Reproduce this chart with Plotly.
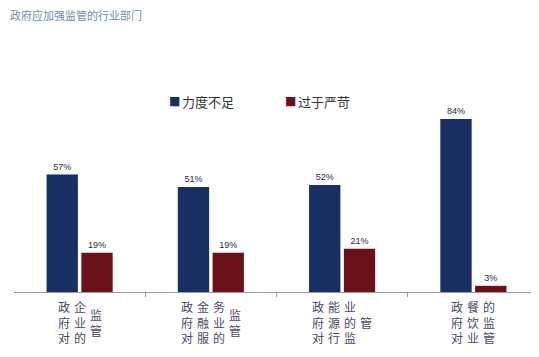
import plotly.graph_objects as go

title = "政府应加强监管的行业部门"
categories = ["政府对企业的监管", "政府对金融服务业的监管", "政府对能源行业的监管", "政府对餐饮业的监管"]
series_names = ["力度不足", "过于严苛"]
insufficient = [57, 51, 52, 84]
too_strict = [19, 19, 21, 3]

colors = ["#172F63", "#6A1119"]
cjk = "Noto Sans CJK SC, Liberation Sans, sans-serif"

xs = list(range(len(categories)))
fig = go.Figure()
for name, vals, col in zip(series_names, [insufficient, too_strict], colors):
    fig.add_trace(go.Bar(
        x=xs, y=vals, name=name, marker_color=col, marker_line_width=0,
        text=[f"{v}%" for v in vals], textposition="outside",
        textfont=dict(family="Liberation Sans, Arial", size=9, color="#1F2A44"),
        cliponaxis=False, showlegend=False,
    ))

annotations = [dict(text=title, xref="paper", yref="paper", x=-0.0114, y=1.345, xanchor="left", yanchor="middle",
                    showarrow=False, font=dict(family=cjk, size=11, color="#6F8CAA"))]

# manual legend
legend_x = [0.2914, 0.512]
for name, col, lx in zip(series_names, colors, legend_x):
    annotations.append(dict(text="■", xref="paper", yref="paper", x=lx, y=0.927, xanchor="left", yanchor="middle",
                            showarrow=False, font=dict(family="DejaVu Sans", size=12, color=col)))
    annotations.append(dict(text=name, xref="paper", yref="paper", x=lx + 0.0248, y=0.927, xanchor="left",
                            yanchor="middle", showarrow=False, font=dict(family=cjk, size=13, color="#333333")))

for i, lab in enumerate(categories):
    chunks = [lab[j:j + 3] for j in range(0, len(lab), 3)]
    n = len(chunks)
    for k, ch in enumerate(chunks):
        annotations.append(dict(
            text="<br>".join(ch), x=i, xref="x", y=0, yref="paper",
            xshift=(k - (n - 1) / 2) * 16, yshift=-30,
            xanchor="center", yanchor="middle", showarrow=False, align="center",
            font=dict(family=cjk, size=12, color="#4A4A66"),
        ))

fig.update_layout(
    width=531, height=349,
    margin=dict(l=6, r=0, t=78, b=65),
    paper_bgcolor="white", plot_bgcolor="white",
    barmode="group", bargap=0.47, bargroupgap=0.1,
    showlegend=False,
    annotations=annotations,
    xaxis=dict(range=[-0.5, 3.5], tickvals=[0.5, 1.5, 2.5], showticklabels=False,
               ticks="outside", ticklen=4, tickcolor="#999999",
               showline=True, linecolor="#999999", linewidth=1, showgrid=False, zeroline=False),
    yaxis=dict(range=[0, 100], visible=False, showgrid=False, zeroline=False),
)

fig.write_html("out.html")
